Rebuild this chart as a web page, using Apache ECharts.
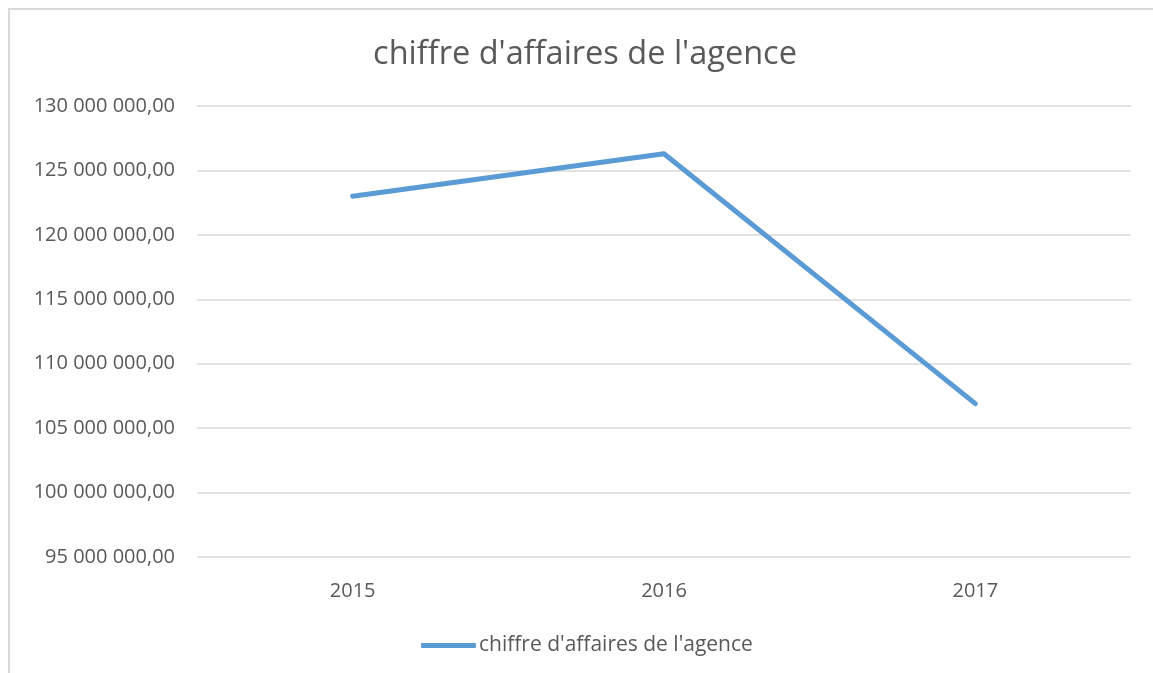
<!DOCTYPE html>
<html>
<head>
<meta charset="utf-8">
<script src="https://cdn.jsdelivr.net/npm/echarts@6/dist/echarts.min.js"></script>
<style>
    html, body { margin: 0; padding: 0; overflow: hidden; background: #fff; }
    #frame {
        position: absolute; left: 8px; top: 8px; width: 1200px; height: 700px;
        border-left: 2px solid #d9d9d9; border-top: 2px solid #d9d9d9;
    }
    #chart { position: absolute; left: 0; top: 0; width: 1153px; height: 673px; }
</style>
</head>
<body>
<div id="frame"></div>
<div id="chart"></div>
<script>
const years = ['2015', '2016', '2017'];
const revenue = [123000000, 126300000, 106900000];
const seriesName = "chiffre d'affaires de l'agence";

const font = '"Open Sans", "Noto Sans", sans-serif';
const textColor = '#595959';
const lineColor = '#5b9bd5';

const formatAmount = (v) => {
    const parts = Math.round(v).toString().replace(/\B(?=(\d{3})+(?!\d))/g, ' ');
    return parts + ',00';
};

const chart = echarts.init(document.getElementById('chart'));
chart.setOption({
    animation: false,
    title: {
        text: seriesName,
        left: 580,
        top: 33,
        textAlign: 'center',
        textStyle: {
            fontFamily: font,
            fontSize: 32.5,
            fontWeight: 'normal',
            color: textColor,
        },
    },
    legend: {
        orient: 'horizontal',
        left: 416,
        top: 630,
        icon: 'roundRect',
        itemWidth: 55,
        itemHeight: 5,
        itemGap: 4,
        itemStyle: { color: lineColor, borderWidth: 0 },
        textStyle: {
            fontFamily: font,
            fontSize: 21,
            color: textColor,
            padding: [0, 0, 0, -2],
        },
        data: [seriesName],
    },
    grid: {
        left: 197,
        right: 22,
        top: 106,
        bottom: 116,
        containLabel: false,
    },
    xAxis: {
        type: 'category',
        data: years,
        boundaryGap: true,
        axisLine: { show: false },
        axisTick: { show: false },
        axisLabel: {
            color: textColor,
            fontFamily: font,
            fontSize: 20,
            margin: 24,
        },
    },
    yAxis: {
        type: 'value',
        min: 95000000,
        max: 130000000,
        interval: 5000000,
        axisLine: { show: false },
        axisTick: { show: false },
        axisLabel: {
            color: textColor,
            fontFamily: font,
            fontSize: 20,
            margin: 22,
            formatter: formatAmount,
        },
        splitLine: {
            lineStyle: { color: '#d9d9d9', width: 1.5 },
        },
    },
    series: [
        {
            name: seriesName,
            type: 'line',
            data: revenue,
            symbol: 'none',
            color: lineColor,
            lineStyle: {
                color: lineColor,
                width: 5,
                cap: 'round',
                join: 'round',
            },
        },
    ],
});
</script>
</body>
</html>
